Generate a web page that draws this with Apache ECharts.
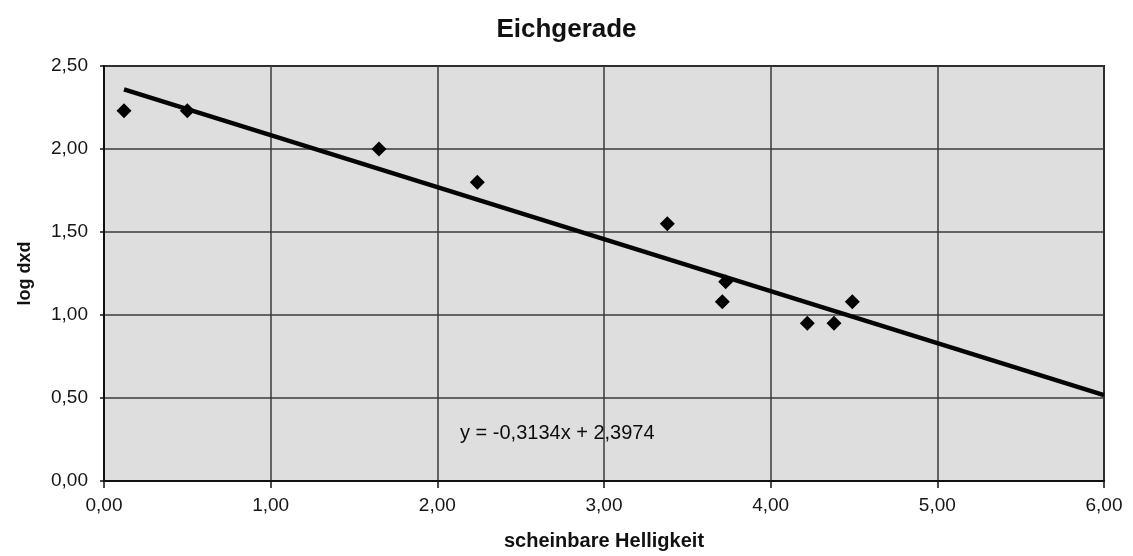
<!DOCTYPE html>
<html>
<head>
<meta charset="utf-8">
<style>
  html, body { margin: 0; padding: 0; background: #ffffff; }
  #chart { width: 1133px; height: 556px; }
</style>
<script src="https://cdn.jsdelivr.net/npm/echarts@6/dist/echarts.min.js"></script>
</head>
<body>
<div id="chart"></div>
<script>
// ---- data ----
const chartTitle = 'Eichgerade';
const xAxisName = 'scheinbare Helligkeit';
const yAxisName = 'log dxd';
const xValues = [0.12, 0.50, 1.65, 2.24, 3.38, 3.73, 3.71, 4.22, 4.38, 4.49];
const yValues = [2.23, 2.23, 2.00, 1.80, 1.55, 1.20, 1.08, 0.95, 0.95, 1.08];
const trendSlope = -0.3134;
const trendIntercept = 2.3974;
const trendEndX = 6.0;
const equationText = 'y = -0,3134x + 2,3974';
const xTickLabels = ['0,00', '1,00', '2,00', '3,00', '4,00', '5,00', '6,00'];
const yTickLabels = ['0,00', '0,50', '1,00', '1,50', '2,00', '2,50'];

const points = xValues.map((x, i) => [x, yValues[i]]);
const trendStartX = Math.min(...xValues);
const trendLine = [
  [trendStartX, trendSlope * trendStartX + trendIntercept],
  [trendEndX, trendSlope * trendEndX + trendIntercept]
];

const chart = echarts.init(document.getElementById('chart'), null, { renderer: 'canvas' });
const font = 'Liberation Sans, Arial, Helvetica, sans-serif';

chart.setOption({
  backgroundColor: '#ffffff',
  animation: false,
  textStyle: { fontFamily: font },
  title: {
    text: chartTitle,
    left: 'center',
    top: 12,
    textStyle: { fontFamily: font, fontSize: 26, fontWeight: 'bold', color: '#111' }
  },
  grid: {
    left: 104, right: 29, top: 66, bottom: 73,
    show: true,
    backgroundColor: '#dedede',
    borderColor: '#111',
    borderWidth: 2
  },
  xAxis: {
    type: 'value',
    min: 0, max: 6, interval: 1,
    name: xAxisName,
    nameLocation: 'middle',
    nameGap: 50,
    nameTextStyle: { fontFamily: font, fontSize: 20, fontWeight: 'bold', color: '#111' },
    axisLine: { show: true, lineStyle: { color: '#111', width: 2 } },
    axisTick: { show: true, length: 7, lineStyle: { color: '#111', width: 1.5 } },
    axisLabel: {
      margin: 15, fontSize: 19, color: '#151515', fontFamily: font,
      formatter: v => xTickLabels[Math.round(v)]
    },
    splitLine: { show: true, lineStyle: { color: '#3a3a3a', width: 1.5 } }
  },
  yAxis: {
    type: 'value',
    min: 0, max: 2.5, interval: 0.5,
    name: yAxisName,
    nameLocation: 'middle',
    nameGap: 70,
    nameRotate: 90,
    nameTextStyle: { fontFamily: font, fontSize: 18, fontWeight: 'bold', color: '#111' },
    axisLine: { show: true, lineStyle: { color: '#111', width: 2 } },
    axisTick: { show: true, length: 4, lineStyle: { color: '#111', width: 1.5 } },
    axisLabel: {
      margin: 16, fontSize: 19, color: '#151515', fontFamily: font,
      formatter: v => yTickLabels[Math.round(v * 2)]
    },
    splitLine: { show: true, lineStyle: { color: '#3a3a3a', width: 1.5 } }
  },
  series: [
    {
      type: 'line',
      data: trendLine,
      showSymbol: false,
      symbol: 'none',
      lineStyle: { color: '#050505', width: 4.5 },
      z: 2
    },
    {
      type: 'scatter',
      data: points,
      symbol: 'diamond',
      symbolSize: 15,
      itemStyle: { color: '#000000', opacity: 1 },
      z: 3
    }
  ],
  graphic: [
    {
      type: 'text',
      left: 460,
      top: 423,
      z: 10,
      style: {
        text: equationText,
        fontFamily: font,
        fontSize: 20,
        fill: '#0d0d0d'
      }
    }
  ]
});
</script>
</body>
</html>
